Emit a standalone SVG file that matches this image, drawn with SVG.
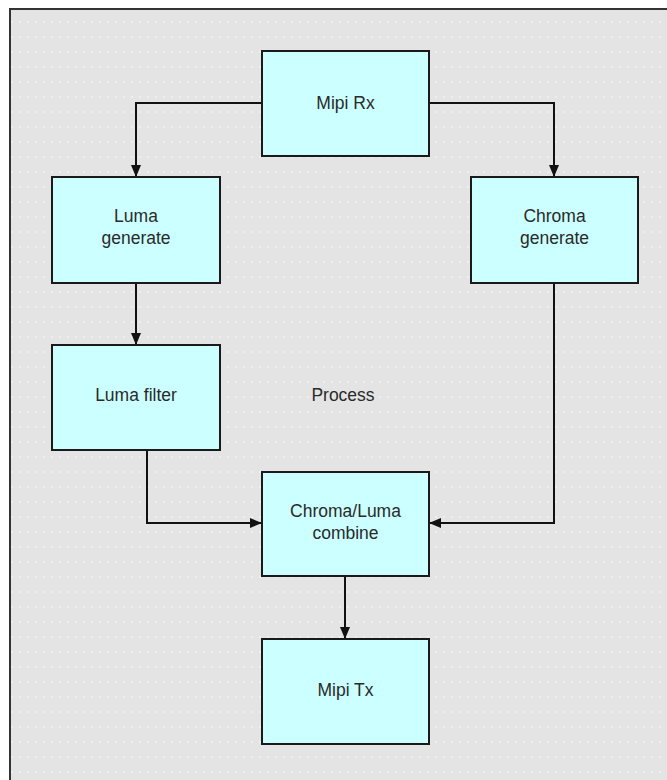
<svg xmlns="http://www.w3.org/2000/svg" width="667" height="780" viewBox="0 0 667 780">
<defs>
<style>
.node rect{fill:#ccffff;stroke:#1a1a1a;stroke-width:2}
.node text,.lbl{font-family:"Liberation Sans",Arial,sans-serif;font-size:17.5px;fill:#2a2a2a;text-anchor:middle}
.conn path{fill:none;stroke:#111;stroke-width:2}
</style>
<marker id="ah" viewBox="0 0 12 10" refX="12" refY="5" markerWidth="12" markerHeight="10" markerUnits="userSpaceOnUse" orient="auto">
<path d="M0,0 L12,5 L0,10 z" fill="#111"/>
</marker>
<pattern id="dots" width="8" height="15" patternUnits="userSpaceOnUse">
<circle cx="4" cy="7" r="0.9" fill="#ffffff" opacity="0.6"/>
</pattern>
</defs>
<rect x="0" y="0" width="667" height="780" fill="#ffffff"/>
<rect x="10" y="9" width="700" height="800" fill="#e4e4e4" stroke="#333" stroke-width="2"/>
<rect x="11" y="10" width="698" height="798" fill="url(#dots)"/>
<g class="conn">
<path d="M262,103 H136 V177" marker-end="url(#ah)"/>
<path d="M429,103 H554 V177" marker-end="url(#ah)"/>
<path d="M136,283 V345" marker-end="url(#ah)"/>
<path d="M147,450 V523 H262" marker-end="url(#ah)"/>
<path d="M554,283 V523 H429" marker-end="url(#ah)"/>
<path d="M345,576 V639" marker-end="url(#ah)"/>
</g>
<g id="mipi-rx" class="node"><rect x="262" y="51" width="167" height="105"/><text x="345.5" y="109">Mipi Rx</text></g>
<g id="luma-generate" class="node"><rect x="52" y="177" width="168" height="106"/><text x="136" y="222">Luma</text><text x="136" y="244">generate</text></g>
<g id="chroma-generate" class="node"><rect x="471" y="177" width="167" height="106"/><text x="554.5" y="222">Chroma</text><text x="554.5" y="244">generate</text></g>
<g id="luma-filter" class="node"><rect x="52" y="345" width="168" height="105"/><text x="136" y="401">Luma filter</text></g>
<g id="combine" class="node"><rect x="262" y="472" width="167" height="104"/><text x="345.5" y="517">Chroma/Luma</text><text x="345.5" y="539">combine</text></g>
<g id="mipi-tx" class="node"><rect x="262" y="639" width="167" height="105"/><text x="345.5" y="696">Mipi Tx</text></g>
<text class="lbl" x="343" y="401">Process</text>
</svg>
